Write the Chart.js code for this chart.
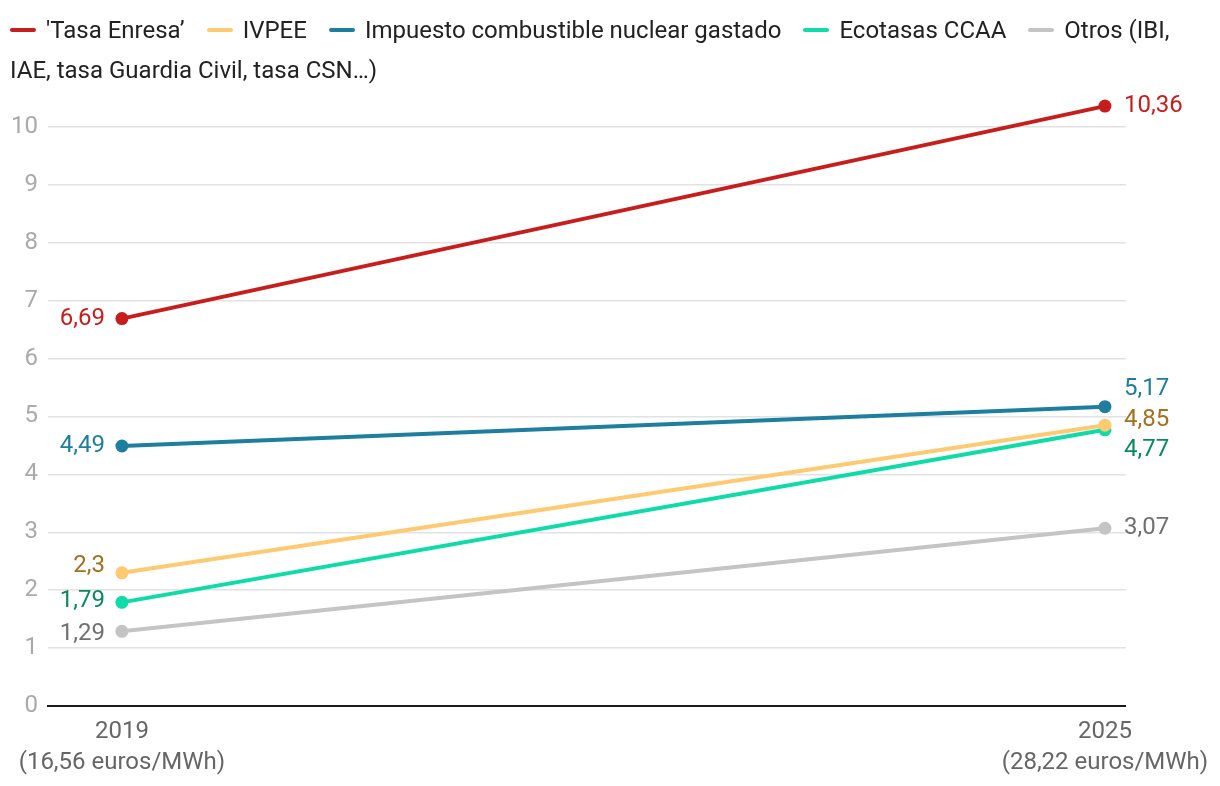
<!DOCTYPE html>
<html lang="es">
<head>
<meta charset="UTF-8">
<title>Impuestos nuclear</title>
<script src="https://cdn.jsdelivr.net/npm/chart.js"></script>
<style>
  body { margin: 0; background: #fff; font-family: Roboto, sans-serif; }
  .wrap { position: relative; width: 1220px; height: 786px; }
  #legend {
    position: absolute; left: 10px; top: 10px; width: 1190px;
    font-size: 24px; line-height: 40px; color: #222;
  }
  #legend .sw {
    display: inline-block; width: 26px; height: 4px; border-radius: 2px;
    vertical-align: middle; margin-right: 10px; position: relative; top: -2px;
  }
  #legend .item { margin-right: 22px; }
  canvas { position: absolute; left: 0; top: 0; }
</style>
</head>
<body>
<div class="wrap">
  <canvas id="c" width="1220" height="786"></canvas>
  <div id="legend"></div>
</div>
<script>
const years = ['2019', '2025'];
const yearNotes = ['(16,56 euros/MWh)', '(28,22 euros/MWh)'];
const seriesNames = ["'Tasa Enresa’", 'IVPEE', 'Impuesto combustible nuclear gastado', 'Ecotasas CCAA', 'Otros (IBI, IAE, tasa Guardia Civil, tasa CSN…)'];
const enresa = [6.69, 10.36];
const ivpee = [2.3, 4.85];
const combustible = [4.49, 5.17];
const ecotasas = [1.79, 4.77];
const otros = [1.29, 3.07];

const lineColors = ['#c71e1d', '#fdca72', '#1d7ea0', '#0ddba8', '#c4c4c4'];
const textColors = ['#c71e1d', '#a3701e', '#1d7ea0', '#0a8a5e', '#707070'];
// vertical nudges for value labels [left, right]
const labelNudge = [[0, 0], [-7, -5], [0, -18], [-1, 20], [3, 0]];

const values = [enresa, ivpee, combustible, ecotasas, otros];

const legend = document.getElementById('legend');
seriesNames.forEach((n, i) => {
  const s = document.createElement('span');
  s.className = 'item';
  s.innerHTML = '<span class="sw" style="background:' + lineColors[i] + '"></span>' + n;
  legend.appendChild(s);
});

const labelPlugin = {
  id: 'valueLabels',
  afterDatasetsDraw(chart) {
    const ctx = chart.ctx;
    ctx.save();
    ctx.font = '24px Roboto';
    ctx.textBaseline = 'middle';
    chart.data.datasets.forEach((ds, i) => {
      const meta = chart.getDatasetMeta(i);
      meta.data.forEach((pt, j) => {
        const txt = String(ds.data[j].y).replace('.', ',');
        ctx.fillStyle = textColors[i];
        if (j === 0) {
          ctx.textAlign = 'right';
          ctx.fillText(txt, pt.x - 17, pt.y + labelNudge[i][0]);
        } else {
          ctx.textAlign = 'left';
          ctx.fillText(txt, pt.x + 19, pt.y + labelNudge[i][1]);
        }
      });
    });
    ctx.restore();
  }
};

new Chart(document.getElementById('c'), {
  type: 'line',
  data: {
    datasets: values.map((v, i) => ({
      label: seriesNames[i],
      data: v.map((y, j) => ({ x: j, y: y })),
      borderColor: lineColors[i],
      backgroundColor: lineColors[i],
      borderWidth: 4,
      pointRadius: 6.5,
      pointBorderWidth: 0,
      tension: 0
    }))
  },
  options: {
    responsive: false,
    animation: false,
    layout: { padding: { top: 98, right: 93, left: 0, bottom: 0 } },
    plugins: { legend: { display: false }, tooltip: { enabled: false } },
    scales: {
      x: {
        type: 'linear',
        min: -0.0752,
        max: 1.0213,
        afterBuildTicks(scale) { scale.ticks = years.map((_, i) => ({ value: i })); },
        afterFit(scale) { scale.height = 80; },
        grid: { display: false, drawTicks: false },
        border: { display: true, color: '#1a1a1a', width: 2 },
        ticks: {
          color: '#666',
          font: { family: 'Roboto', size: 24, lineHeight: 1.3 },
          padding: 10,
          maxRotation: 0,
          autoSkip: false,
          callback: (v) => [years[v], yearNotes[v]]
        }
      },
      y: {
        min: 0,
        max: 10.5,
        afterBuildTicks(scale) { scale.ticks = scale.ticks.filter(t => Number.isInteger(t.value)); },
        afterFit(scale) { scale.width = 48; },
        grid: { color: '#e2e2e2', lineWidth: 1.5, drawTicks: false },
        border: { display: false },
        ticks: {
          stepSize: 1,
          color: '#aaa',
          padding: 10,
          font: { family: 'Roboto', size: 24 }
        }
      }
    }
  },
  plugins: [labelPlugin]
});
</script>
</body>
</html>
